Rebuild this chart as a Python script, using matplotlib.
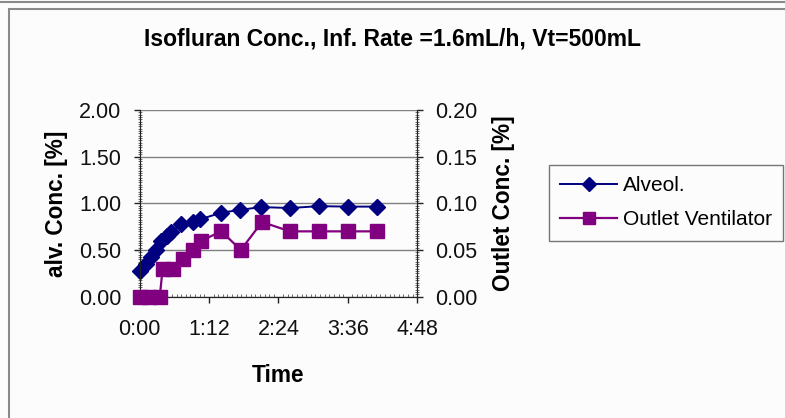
import matplotlib
matplotlib.use("Agg")
import matplotlib.pyplot as plt
from matplotlib.patches import Rectangle
from matplotlib.ticker import MultipleLocator, FuncFormatter

# time in minutes
alv_time = [1, 7, 12, 17, 22, 28, 33, 43, 55, 63, 85, 104, 126, 156, 186, 216, 246]
alv_conc = [0.27, 0.35, 0.42, 0.50, 0.60, 0.65, 0.69, 0.78, 0.80, 0.83, 0.90, 0.93,
            0.96, 0.95, 0.97, 0.965, 0.965]

out_time = [0, 10, 21, 24, 35, 45, 55, 64, 85, 105, 127, 156, 186, 216, 246]
out_conc = [0.0, 0.0, 0.0, 0.03, 0.03, 0.04, 0.05, 0.06, 0.07, 0.05, 0.08, 0.07,
            0.07, 0.07, 0.07]

x_ticks = [0, 72, 144, 216, 288]

W, H = 785, 418
plt.rcParams['font.family'] = ['Liberation Sans', 'DejaVu Sans']
fig = plt.figure(figsize=(W / 100, H / 100), dpi=100)
fig.patch.set_facecolor('#fcfcfc')

# chart border
fig.add_artist(Rectangle((9 / W, -0.01), 1.0, 1 - 9 / H + 0.01, transform=fig.transFigure,
                         fill=False, edgecolor='#8a8a8a', linewidth=1.5))
fig.add_artist(plt.Line2D([0, 1], [1 - 1.5 / H, 1 - 1.5 / H], transform=fig.transFigure,
                          color='#8a8a8a', linewidth=1.5))

ax = fig.add_axes([139.5 / W, 1 - 296.7 / H, (417.3 - 139.5) / W, (296.7 - 110) / H])
ax.set_facecolor('#fcfcfc')
ax2 = ax.twinx()

l1, = ax.plot(alv_time, alv_conc, color='#000080', marker='D', markersize=8,
              linewidth=1.4, label='Alveol.', clip_on=False, zorder=4)
l2, = ax2.plot(out_time, out_conc, color='#800080', marker='s', markersize=9.5,
               linewidth=1.6, label='Outlet Ventilator', clip_on=False, zorder=3)

ax.set_xlim(0, 288)
ax.set_ylim(0, 2.0)
ax2.set_ylim(0, 0.2)
ax.set_xticks(x_ticks)
ax.xaxis.set_major_formatter(FuncFormatter(lambda v, p: f"{int(v // 60)}:{int(v % 60):02d}"))
ax.yaxis.set_major_locator(MultipleLocator(0.5))
ax.yaxis.set_major_formatter(FuncFormatter(lambda v, p: f"{v:.2f}"))
ax2.yaxis.set_major_locator(MultipleLocator(0.05))
ax2.yaxis.set_major_formatter(FuncFormatter(lambda v, p: f"{v:.2f}"))
ax.yaxis.set_minor_locator(MultipleLocator(0.025))
ax2.yaxis.set_minor_locator(MultipleLocator(0.0025))
ax.xaxis.set_minor_locator(MultipleLocator(4.8))

ax.grid(axis='y', color='#808080', linewidth=1.0)
ax.set_axisbelow(True)
for a in (ax, ax2):
    a.spines['top'].set_visible(False)
    for s in ('left', 'right', 'bottom'):
        a.spines[s].set_color('#222222')
ax.tick_params(axis='y', which='major', labelsize=15.5, length=4, width=1, direction='out',
               colors='#222222', labelcolor='#111111', pad=9)
ax.tick_params(axis='x', which='major', labelsize=15.5, length=4, width=1, direction='out',
               colors='#222222', labelcolor='#111111', pad=12)
ax.tick_params(axis='y', which='minor', length=3, width=0.6, direction='inout', colors='#555555')
ax.tick_params(axis='x', which='minor', length=2, width=0.6, direction='in', colors='#555555')
ax2.tick_params(axis='y', which='major', labelsize=15.5, length=4, width=1, direction='out',
                colors='#222222', labelcolor='#111111', pad=9)
ax2.tick_params(axis='y', which='minor', length=3, width=0.6, direction='inout', colors='#555555')

ax.set_ylabel('alv. Conc. [%]', fontsize=16.3, fontweight='bold', labelpad=8)
ax2.set_ylabel('Outlet Conc. [%]', fontsize=16.3, fontweight='bold', labelpad=10)
ax.set_xlabel('Time', fontsize=16.3, fontweight='bold', labelpad=17)

fig.text(0.5, 1 - 39 / H, 'Isofluran Conc., Inf. Rate =1.6mL/h, Vt=500mL', ha='center',
         va='center', fontsize=16.5, fontweight='bold')

leg = fig.legend(handles=[l1, l2], loc='upper left', bbox_to_anchor=(549 / W, 1 - 165 / H),
                 fontsize=15, frameon=True, fancybox=False, handlelength=2.7,
                 handletextpad=0.3, borderpad=0.55, labelspacing=0.7, borderaxespad=0,
                 markerscale=0.9)
leg.get_frame().set_edgecolor('#555555')
leg.get_frame().set_linewidth(1.0)
leg.get_frame().set_facecolor('#fcfcfc')

fig.savefig('out.png', dpi=100, facecolor=fig.get_facecolor())
